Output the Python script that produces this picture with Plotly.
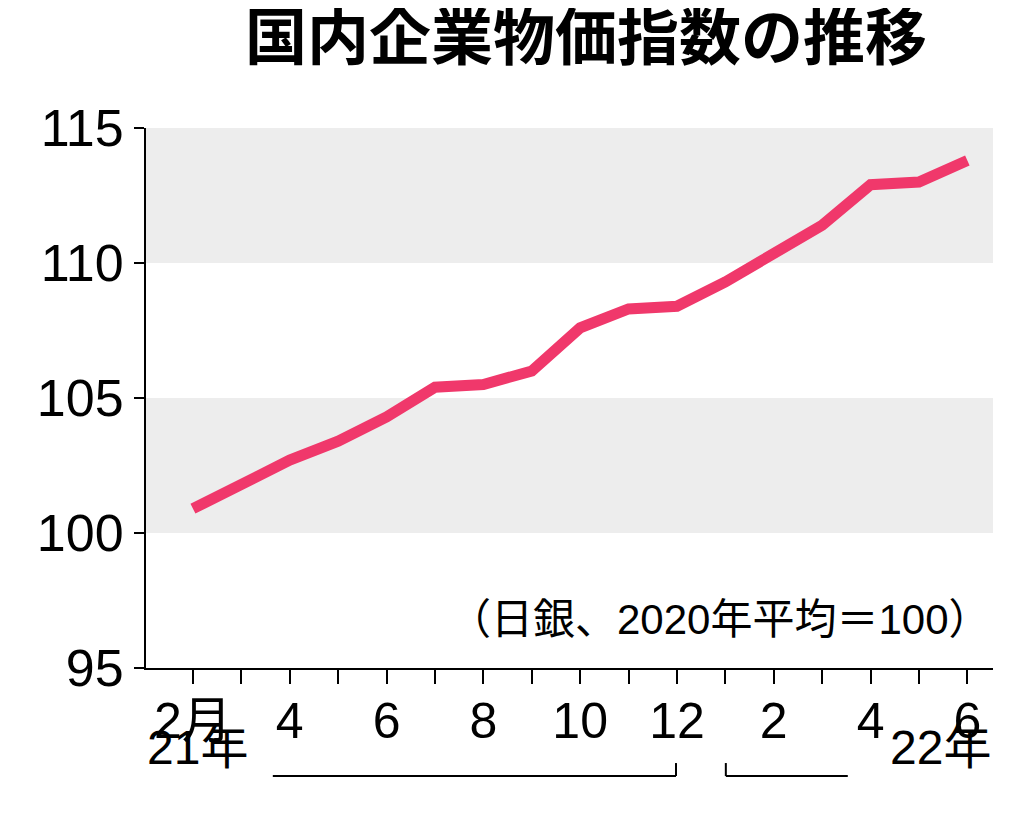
import plotly.graph_objects as go

months = ["2月", "3", "4", "5", "6", "7", "8", "9", "10", "11", "12",
          "1", "2", "3", "4", "5", "6"]
values = [100.9, 101.8, 102.7, 103.4, 104.3, 105.4, 105.5, 106.0, 107.6,
          108.3, 108.4, 109.3, 110.3, 111.4, 112.9, 113.0, 113.8]
tick_labels = [m if i % 2 == 0 else "" for i, m in enumerate(months)]
x = list(range(len(values)))

font = "Liberation Sans, Noto Sans CJK JP"
fig = go.Figure()

# gray bands
for y0, y1 in [(110, 115), (100, 105)]:
    fig.add_shape(type="rect", xref="paper", yref="y", x0=0, x1=1, y0=y0, y1=y1,
                  fillcolor="#ededed", line_width=0, layer="below")

fig.add_trace(go.Scatter(x=x, y=values, mode="lines",
                         line=dict(color="#f0386b", width=11)))

fig.update_xaxes(range=[-0.97, 16.53], tickvals=x, ticktext=tick_labels,
                 showgrid=False, zeroline=False, showline=True, linecolor="black",
                 linewidth=2, ticks="outside", ticklen=14, tickwidth=2,
                 tickcolor="black", automargin=False, ticklabelstandoff=-6,
                 tickfont=dict(size=50, color="black", family=font))
fig.update_yaxes(range=[95, 115], tickvals=[95, 100, 105, 110, 115],
                 showgrid=False, zeroline=False, showline=True, linecolor="black",
                 linewidth=2, ticks="outside", ticklen=10, tickwidth=2,
                 tickcolor="black", automargin=False,
                 tickfont=dict(size=52, color="black", family=font))

# year brackets
line = dict(color="black", width=2)
fig.add_shape(type="line", xref="x", yref="paper", x0=1.65, x1=9.98, y0=-0.2, y1=-0.2, line=line)
fig.add_shape(type="line", xref="x", yref="paper", x0=9.98, x1=9.98, y0=-0.2, y1=-0.176, line=line)
fig.add_shape(type="line", xref="x", yref="paper", x0=11.01, x1=13.53, y0=-0.2, y1=-0.2, line=line)
fig.add_shape(type="line", xref="x", yref="paper", x0=11.01, x1=11.01, y0=-0.2, y1=-0.176, line=line)

fig.add_annotation(text="21年", xref="x", yref="paper", x=0.1, y=-0.2,
                   showarrow=False, font=dict(size=48, color="black", family=font))
fig.add_annotation(text="22年", xref="x", yref="paper", x=16.53, y=-0.2, xanchor="right",
                   showarrow=False, font=dict(size=48, color="black", family=font))
fig.add_annotation(text="（日銀、2020年平均＝100）", xref="paper", yref="y", x=1.0, y=96.8,
                   xanchor="right", showarrow=False,
                   font=dict(size=42, color="black", family=font))
fig.add_annotation(text="<b>国内企業物価指数の推移</b>", xref="paper", yref="paper",
                   x=0.52, y=1.0, yshift=95, xanchor="center", yanchor="middle",
                   showarrow=False,
                   font=dict(size=62, color="black", family="Noto Sans CJK JP"))

fig.update_layout(width=1024, height=814, showlegend=False,
                  plot_bgcolor="white", paper_bgcolor="white",
                  margin=dict(l=138, r=39, t=120, b=154))
fig.write_html("out.html")
